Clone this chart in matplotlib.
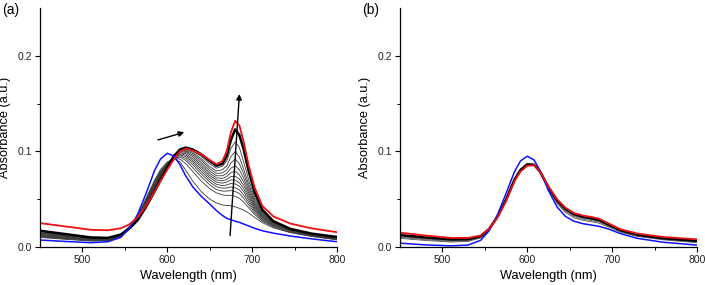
import matplotlib
matplotlib.use('Agg')
import matplotlib.pyplot as plt
from matplotlib.ticker import FixedLocator, FormatStrFormatter

# ---- panel (a) data: wavelength (nm) and absorbance (a.u.) ----
wl_a = [450, 480, 510, 530, 545, 555, 565, 575, 585, 592, 600, 608, 615, 622, 630,
        640, 650, 658, 665, 670, 675, 680, 685, 690, 696, 703, 712, 725, 745, 770, 800]

blue_a = [.0073, .0058, .0045, .0055, .0100, .0190, .0340, .0560, .0800, .0920, .0980,
          .0950, .0860, .0740, .0630, .0530, .0450, .0380, .0330, .0300, .0285, .0270,
          .0258, .0240, .0220, .0195, .0170, .0145, .0115, .0085, .0055]

red_a = [.0250, .0215, .0180, .0175, .0195, .0235, .0310, .0430, .0580, .0690, .0810,
         .0920, .1000, .1030, .1010, .0970, .0910, .0865, .0900, .1000, .1200, .1320,
         .1270, .1100, .0850, .0620, .0430, .0320, .0245, .0195, .0155]

black_a = [.0170, .0135, .0100, .0095, .0130, .0190, .0280, .0420, .0580, .0700, .0830,
           .0950, .1020, .1040, .1020, .0970, .0900, .0850, .0870, .0950, .1120, .1230,
           .1170, .1020, .0790, .0570, .0390, .0270, .0190, .0140, .0105]

grays_a = [
    [.0100, .0080, .0062, .0065, .0105, .0190, .0320, .0510, .0700, .0810, .0890, .0920,
     .0890, .0800, .0690, .0580, .0500, .0460, .0440, .0435, .0430, .0420, .0405, .0385,
     .0355, .0310, .0255, .0200, .0150, .0110, .0075],
    [.0105, .0085, .0066, .0068, .0108, .0192, .0318, .0500, .0685, .0795, .0880, .0925,
     .0920, .0870, .0790, .0690, .0610, .0565, .0545, .0540, .0540, .0530, .0510, .0470,
     .0410, .0340, .0270, .0210, .0155, .0113, .0078],
    [.0110, .0090, .0070, .0071, .0110, .0194, .0316, .0492, .0672, .0785, .0875, .0930,
     .0940, .0905, .0830, .0735, .0650, .0600, .0585, .0585, .0590, .0580, .0560, .0510,
     .0440, .0360, .0283, .0218, .0160, .0116, .0080],
    [.0115, .0094, .0073, .0074, .0112, .0196, .0314, .0485, .0662, .0777, .0872, .0935,
     .0955, .0925, .0860, .0765, .0680, .0630, .0615, .0618, .0628, .0620, .0598, .0545,
     .0465, .0378, .0293, .0225, .0165, .0119, .0083],
    [.0120, .0098, .0076, .0077, .0114, .0198, .0312, .0478, .0652, .0770, .0870, .0940,
     .0965, .0945, .0885, .0790, .0705, .0655, .0642, .0648, .0665, .0660, .0635, .0580,
     .0490, .0395, .0303, .0232, .0170, .0122, .0086],
    [.0125, .0102, .0079, .0080, .0116, .0200, .0310, .0470, .0643, .0763, .0868, .0945,
     .0975, .0960, .0905, .0815, .0728, .0678, .0668, .0678, .0702, .0700, .0672, .0612,
     .0515, .0410, .0312, .0238, .0174, .0125, .0089],
    [.0130, .0106, .0082, .0083, .0118, .0202, .0308, .0464, .0635, .0757, .0866, .0950,
     .0985, .0975, .0925, .0838, .0750, .0700, .0692, .0705, .0738, .0740, .0710, .0645,
     .0540, .0425, .0320, .0244, .0178, .0128, .0092],
    [.0135, .0110, .0085, .0086, .0120, .0204, .0306, .0458, .0627, .0751, .0864, .0955,
     .0995, .0990, .0945, .0860, .0772, .0722, .0718, .0735, .0780, .0790, .0755, .0680,
     .0565, .0440, .0328, .0250, .0182, .0131, .0095],
    [.0140, .0114, .0088, .0088, .0122, .0206, .0304, .0452, .0619, .0745, .0862, .0960,
     .1005, .1000, .0962, .0882, .0795, .0745, .0745, .0768, .0825, .0850, .0808, .0720,
     .0592, .0457, .0337, .0255, .0185, .0133, .0097],
    [.0145, .0118, .0090, .0090, .0124, .0208, .0302, .0446, .0611, .0739, .0860, .0963,
     .1012, .1010, .0978, .0905, .0818, .0770, .0775, .0805, .0880, .0920, .0870, .0765,
     .0622, .0475, .0347, .0260, .0188, .0135, .0099],
    [.0150, .0122, .0093, .0092, .0126, .0210, .0300, .0440, .0603, .0733, .0858, .0965,
     .1018, .1020, .0992, .0925, .0840, .0795, .0808, .0848, .0945, .1000, .0940, .0815,
     .0655, .0495, .0358, .0265, .0190, .0137, .0101],
    [.0160, .0126, .0096, .0093, .0128, .0210, .0295, .0432, .0595, .0722, .0850, .0962,
     .1020, .1030, .1005, .0950, .0870, .0825, .0845, .0900, .1030, .1100, .1040, .0890,
     .0700, .0520, .0370, .0268, .0190, .0138, .0102],
]

# ---- panel (b) data ----
wl_b = [450, 480, 510, 530, 545, 555, 565, 575, 585, 592, 600, 608, 615, 625, 635,
        645, 655, 665, 675, 685, 695, 710, 730, 760, 800]

blue_b = [.0040, .0022, .0012, .0020, .0070, .0170, .0340, .0560, .0790, .0900, .0950,
          .0910, .0800, .0590, .0420, .0320, .0270, .0245, .0230, .0215, .0190, .0140,
          .0090, .0050, .0020]

red_b = [.0150, .0120, .0095, .0095, .0120, .0190, .0310, .0480, .0690, .0790, .0850,
         .0855, .0790, .0630, .0500, .0410, .0355, .0330, .0315, .0295, .0250, .0185,
         .0140, .0105, .0080]

black_b = [.0125, .0100, .0080, .0082, .0112, .0188, .0318, .0495, .0705, .0805, .0865,
           .0860, .0790, .0625, .0490, .0400, .0345, .0318, .0302, .0282, .0238, .0175,
           .0128, .0092, .0065]

grays_b = [
    [.0090, .0068, .0052, .0058, .0095, .0180, .0320, .0505, .0715, .0815, .0870, .0855,
     .0780, .0605, .0455, .0360, .0305, .0280, .0265, .0248, .0212, .0155, .0110, .0075, .0045],
    [.0100, .0076, .0060, .0066, .0100, .0182, .0319, .0500, .0710, .0810, .0868, .0857,
     .0783, .0612, .0467, .0373, .0318, .0292, .0277, .0260, .0222, .0162, .0116, .0081, .0052],
    [.0108, .0084, .0066, .0072, .0105, .0184, .0318, .0498, .0708, .0808, .0866, .0858,
     .0786, .0617, .0476, .0383, .0328, .0302, .0287, .0269, .0229, .0167, .0120, .0085, .0057],
    [.0116, .0092, .0073, .0077, .0108, .0186, .0318, .0496, .0706, .0806, .0866, .0859,
     .0788, .0621, .0483, .0392, .0337, .0310, .0295, .0276, .0234, .0171, .0124, .0089, .0061],
]

plt.rcParams['font.family'] = ['Liberation Sans', 'DejaVu Sans']

fig = plt.figure(figsize=(7.05, 2.85), dpi=100)
ax1 = fig.add_axes([40/705, 1-247/285, 297/705, 239/285])
ax2 = fig.add_axes([400/705, 1-247/285, 297/705, 239/285])


def style(ax):
    ax.set_xlim(450, 800)
    ax.set_ylim(0, 0.25)
    ax.spines['top'].set_visible(False)
    ax.spines['right'].set_visible(False)
    for s in ('left', 'bottom'):
        ax.spines[s].set_linewidth(0.9)
    ax.xaxis.set_major_locator(FixedLocator([500, 600, 700, 800]))
    ax.xaxis.set_minor_locator(FixedLocator([550, 650, 750]))
    ax.yaxis.set_major_locator(FixedLocator([0.0, 0.1, 0.2]))
    ax.yaxis.set_minor_locator(FixedLocator([0.05, 0.15]))
    ax.yaxis.set_major_formatter(FormatStrFormatter('%.1f'))
    ax.tick_params(which='major', direction='out', length=3.5, width=0.8,
                   labelsize=7.5, pad=2, labelcolor='#222222')
    ax.tick_params(which='minor', direction='out', length=2, width=0.7)
    ax.set_xlabel('Wavelength (nm)', fontsize=9.2, labelpad=4)
    ax.set_ylabel('Absorbance (a.u.)', fontsize=9.2, labelpad=5)


# panel (a)
for g in grays_a:
    ax1.plot(wl_a, g, color='#3a3a3a', lw=0.6)
ax1.plot(wl_a, black_a, color='black', lw=1.8)
ax1.plot(wl_a, blue_a, color='#1010ff', lw=1.1)
ax1.plot(wl_a, red_a, color='#ee1111', lw=1.3)
ax1.annotate('', xy=(620, 0.120), xytext=(589, 0.112),
             arrowprops=dict(arrowstyle='-|>', color='black', lw=1.0,
                             mutation_scale=8, shrinkA=0, shrinkB=0))
ax1.annotate('', xy=(685, 0.160), xytext=(674, 0.012),
             arrowprops=dict(arrowstyle='-|>', color='black', lw=1.0,
                             mutation_scale=8, shrinkA=0, shrinkB=0))
style(ax1)

# panel (b)
for g in grays_b:
    ax2.plot(wl_b, g, color='#555555', lw=0.6)
ax2.plot(wl_b, black_b, color='black', lw=1.8)
ax2.plot(wl_b, blue_b, color='#1010ff', lw=1.1)
ax2.plot(wl_b, red_b, color='#ee1111', lw=1.3)
style(ax2)

fig.text(2/705, 1-10/285, '(a)', fontsize=10, va='center')
fig.text(362/705, 1-10/285, '(b)', fontsize=10, va='center')

fig.savefig('out.png', dpi=100)
